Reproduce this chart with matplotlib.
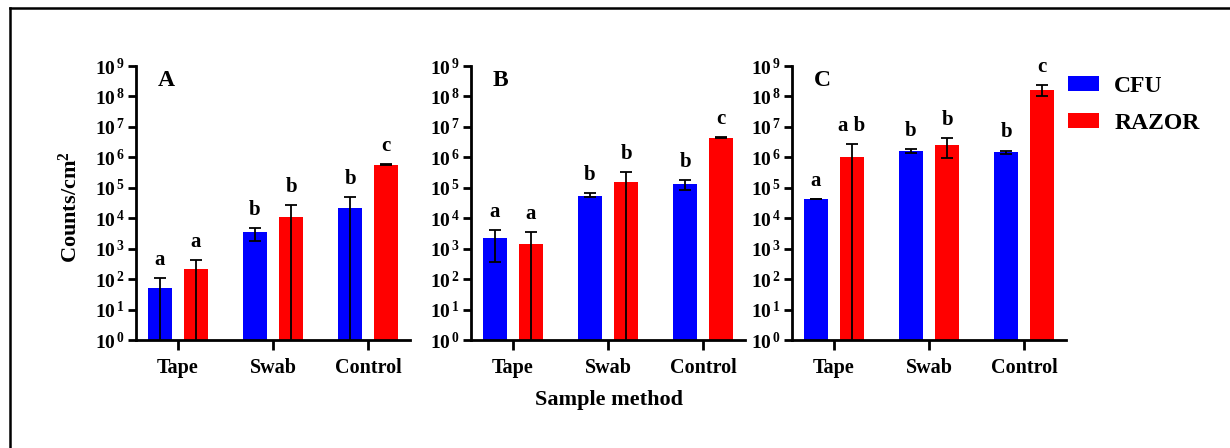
import matplotlib
matplotlib.use("Agg")
import matplotlib.pyplot as plt
from matplotlib.ticker import FixedLocator, FixedFormatter, NullLocator
from matplotlib.patches import Patch
from matplotlib.lines import Line2D
import numpy as np

plt.rcParams['font.family'] = ['Liberation Serif', 'DejaVu Serif']
plt.rcParams['font.weight'] = 'bold'
plt.rcParams['mathtext.fontset'] = 'custom'
plt.rcParams['mathtext.rm'] = 'Liberation Serif:bold'
plt.rcParams['mathtext.bf'] = 'Liberation Serif:bold'
plt.rcParams['mathtext.it'] = 'Liberation Serif:bold'

categories = ["Tape", "Swab", "Control"]
series_names = ["CFU", "RAZOR"]
panel_names = ["A", "B", "C"]

# Panel A
A_cfu = [52, 3400, 22000]
A_cfu_lo = [0.5, 1830, 0.5]
A_cfu_hi = [107, 4700, 50000]
A_raz = [210, 11000, 560000]
A_raz_lo = [0.5, 0.5, 540000]
A_raz_hi = [425, 27500, 590000]
A_cfu_letters = ["a", "b", "b"]
A_raz_letters = ["a", "b", "c"]

# Panel B
B_cfu = [2300, 55000, 130000]
B_cfu_lo = [375, 49000, 82000]
B_cfu_hi = [4100, 65000, 180000]
B_raz = [1450, 160000, 4.4e6]
B_raz_lo = [0.5, 0.5, 4.3e6]
B_raz_hi = [3450, 320000, 4.6e6]
B_cfu_letters = ["a", "b", "b"]
B_raz_letters = ["a", "b", "c"]

# Panel C
C_cfu = [42000, 1.6e6, 1.45e6]
C_cfu_lo = [42000, 1.35e6, 1.3e6]
C_cfu_hi = [42000, 1.85e6, 1.65e6]
C_raz = [1.0e6, 2.6e6, 1.65e8]
C_raz_lo = [0.5, 9.8e5, 1.0e8]
C_raz_hi = [2.7e6, 4.2e6, 2.4e8]
C_cfu_letters = ["a", "b", "b"]
C_raz_letters = ["a b", "b", "c"]

yticks_exp = list(range(0, 10))

panels = [
    (A_cfu, A_cfu_lo, A_cfu_hi, A_raz, A_raz_lo, A_raz_hi, A_cfu_letters, A_raz_letters),
    (B_cfu, B_cfu_lo, B_cfu_hi, B_raz, B_raz_lo, B_raz_hi, B_cfu_letters, B_raz_letters),
    (C_cfu, C_cfu_lo, C_cfu_hi, C_raz, C_raz_lo, C_raz_hi, C_cfu_letters, C_raz_letters),
]

colors = ["#0000FF", "#FF0000"]
W, H = 1230, 448
fig = plt.figure(figsize=(W / 100, H / 100), dpi=100)

lefts_px = [136, 471, 792]
width_px = 274
top_px, bottom_px = 66, 340

bw = 0.25
off = 0.19
x = np.arange(len(categories))

axes = []
for i, (left, pdata) in enumerate(zip(lefts_px, panels)):
    cfu, cfu_lo, cfu_hi, raz, raz_lo, raz_hi, lc, lr = pdata
    ax = fig.add_axes([left / W, 1 - bottom_px / H, width_px / W, (bottom_px - top_px) / H])
    axes.append(ax)
    ax.set_yscale('log')
    for s, (vals, lo, hi, letters) in enumerate([(cfu, cfu_lo, cfu_hi, lc), (raz, raz_lo, raz_hi, lr)]):
        xs = x + (-off if s == 0 else off)
        vals = np.array(vals, float)
        lo = np.array(lo, float)
        hi = np.array(hi, float)
        ax.bar(xs, vals, width=bw, color=colors[s], bottom=0.0, zorder=2)
        yerr = np.vstack([vals - lo, hi - vals])
        ax.errorbar(xs, vals, yerr=yerr, fmt='none', ecolor='black', elinewidth=1.3,
                    capsize=4.5, capthick=1.3, zorder=3)
        for xx, top, lab in zip(xs, hi, letters):
            ax.annotate(lab, (xx, top), xytext=(0, 6), textcoords='offset points',
                        ha='center', va='bottom', fontsize=15, fontweight='bold',
                        annotation_clip=False)
    ax.set_ylim(1, 1e9)
    ax.set_xlim(-0.44, 2.44)
    ax.yaxis.set_major_locator(FixedLocator([10.0 ** e for e in yticks_exp]))
    ax.yaxis.set_major_formatter(FixedFormatter([r'$\mathbf{10^{\,%d}}$' % e for e in yticks_exp]))
    ax.yaxis.set_minor_locator(NullLocator())
    ax.set_xticks(x)
    ax.set_xticklabels(categories, fontsize=14.5, fontweight='bold')
    for lab in ax.get_yticklabels():
        lab.set_fontsize(14)
    ax.spines['top'].set_visible(False)
    ax.spines['right'].set_visible(False)
    ax.spines['left'].set_linewidth(2)
    ax.spines['bottom'].set_linewidth(2)
    ax.tick_params(axis='y', length=6, width=2, pad=2)
    ax.tick_params(axis='x', length=7, width=2, pad=6)
    ax.text(0.08, 0.985, panel_names[i], transform=ax.transAxes, fontsize=17,
            fontweight='bold', ha='left', va='top')

fig.text(70 / W, 1 - 207 / H, r'Counts/cm$^{\mathbf{2}}$', rotation=90, fontsize=16,
         fontweight='bold', ha='center', va='center')
fig.text(609 / W, 1 - 400 / H, 'Sample method', fontsize=16, fontweight='bold',
         ha='center', va='center')

handles = [Patch(facecolor=c, edgecolor='none') for c in colors]
fig.legend(handles, series_names, loc='upper left', bbox_to_anchor=(1047 / W, 1 - 55 / H),
           frameon=False, prop={'family': 'Liberation Serif', 'weight': 'bold', 'size': 17},
           handlelength=1.3, handleheight=0.6, handletextpad=0.65, labelspacing=0.68)

fig.add_artist(Line2D([10 / W, 10 / W], [0, 1 - 8 / H], transform=fig.transFigure,
                      color='black', linewidth=1.8))
fig.add_artist(Line2D([10 / W, 1], [1 - 8 / H, 1 - 8 / H], transform=fig.transFigure,
                      color='black', linewidth=1.8))

fig.savefig("out.png", dpi=100)
